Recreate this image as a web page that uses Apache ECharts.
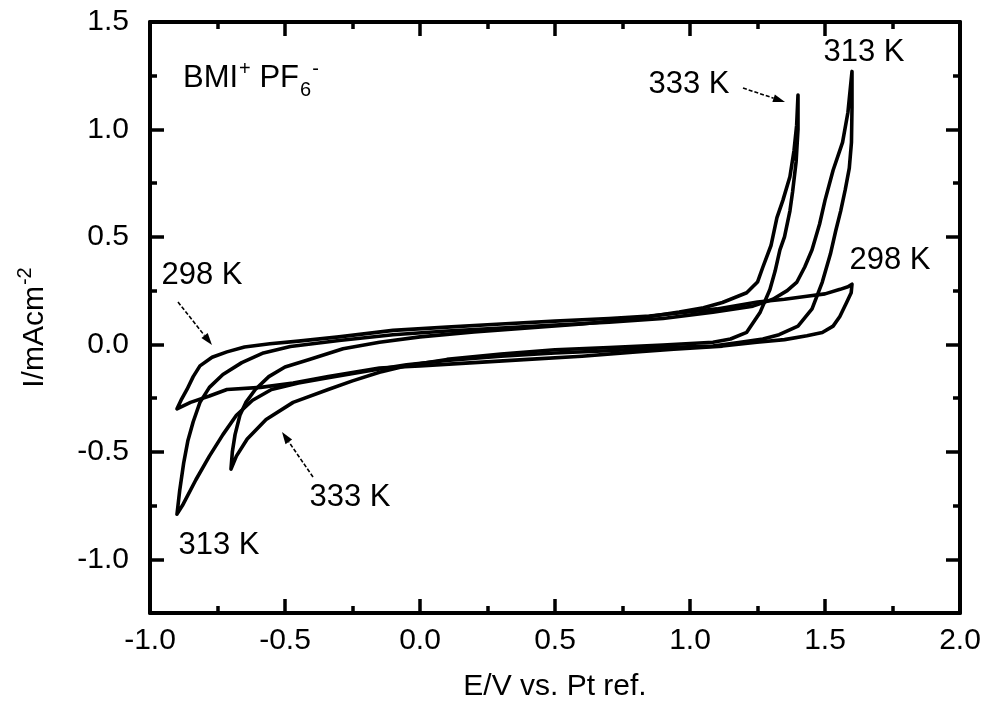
<!DOCTYPE html>
<html><head><meta charset="utf-8">
<script src="https://cdn.jsdelivr.net/npm/echarts@6/dist/echarts.min.js"></script>
<style>html,body{margin:0;padding:0;background:#fff}#c{width:985px;height:707px}</style>
</head><body><div id="c"></div>
<script>
// ---- data (E / V vs Pt ref., I / mA cm^-2), each loop traced in sweep order ----
const e298 = [-0.9,-0.885,-0.863,-0.84,-0.815,-0.77,-0.715,-0.65,-0.556,-0.45,-0.3,-0.1,0.1,0.3,0.5,0.7,0.85,1.03,1.1,1.25,1.35,1.433,1.5,1.556,1.585,1.6,
  1.597,1.58,1.555,1.53,1.49,1.433,1.35,1.248,1.12,0.94,0.8,0.6,0.4,0.2,0.0,-0.15,-0.34,-0.47,-0.59,-0.715,-0.78,-0.85,-0.9];
const i298 = [-0.30,-0.26,-0.21,-0.15,-0.10,-0.06,-0.035,-0.012,0.003,0.015,0.035,0.065,0.08,0.095,0.108,0.12,0.132,0.155,0.165,0.197,0.21,0.224,0.235,0.256,0.268,0.28,
  0.24,0.195,0.13,0.085,0.055,0.04,0.022,0.01,-0.008,-0.022,-0.035,-0.055,-0.07,-0.085,-0.10,-0.11,-0.15,-0.18,-0.20,-0.21,-0.24,-0.27,-0.30];

const e313 = [-0.9,-0.89,-0.875,-0.86,-0.84,-0.815,-0.78,-0.73,-0.66,-0.58,-0.48,-0.3,-0.1,0.1,0.3,0.5,0.7,0.9,1.085,1.233,1.307,1.36,1.396,1.425,1.452,1.48,1.5,1.53,1.565,1.585,1.6,
  1.6,1.598,1.59,1.575,1.558,1.54,1.52,1.49,1.452,1.4,1.33,1.27,1.18,1.085,0.9,0.7,0.5,0.3,0.1,-0.05,-0.15,-0.34,-0.45,-0.55,-0.62,-0.68,-0.73,-0.78,-0.83,-0.88,-0.9];
const i313 = [-0.79,-0.68,-0.55,-0.45,-0.36,-0.27,-0.20,-0.14,-0.085,-0.04,-0.01,0.018,0.045,0.062,0.076,0.09,0.103,0.12,0.15,0.178,0.21,0.25,0.29,0.36,0.44,0.56,0.67,0.81,0.94,1.08,1.27,
  1.1,0.94,0.82,0.72,0.62,0.53,0.42,0.29,0.165,0.085,0.045,0.025,0.008,-0.008,-0.015,-0.03,-0.04,-0.055,-0.075,-0.095,-0.115,-0.155,-0.18,-0.21,-0.26,-0.33,-0.42,-0.52,-0.63,-0.75,-0.79];

const e333 = [-0.7,-0.695,-0.685,-0.667,-0.645,-0.61,-0.56,-0.5,-0.41,-0.285,-0.15,0.0,0.2,0.4,0.6,0.8,0.96,1.05,1.12,1.21,1.25,1.27,1.3,1.322,1.344,1.37,1.385,1.395,1.4,
  1.4,1.393,1.38,1.37,1.35,1.333,1.315,1.296,1.26,1.21,1.15,1.085,0.9,0.7,0.5,0.3,0.1,-0.05,-0.15,-0.25,-0.34,-0.47,-0.57,-0.64,-0.68,-0.7];
const i333 = [-0.58,-0.5,-0.42,-0.33,-0.27,-0.21,-0.15,-0.105,-0.07,-0.02,0.01,0.035,0.058,0.076,0.095,0.12,0.15,0.17,0.195,0.24,0.29,0.36,0.46,0.59,0.67,0.78,0.9,1.02,1.16,
  1.0,0.85,0.71,0.62,0.5,0.44,0.34,0.255,0.15,0.056,0.025,0.01,-0.003,-0.015,-0.025,-0.045,-0.07,-0.1,-0.13,-0.17,-0.21,-0.27,-0.35,-0.44,-0.52,-0.58];

const seriesNames = ['298 K', '313 K', '333 K'];
const xMajorTicks = [-1.0, -0.5, 0.0, 0.5, 1.0, 1.5, 2.0];
const yMajorTicks = [-1.0, -0.5, 0.0, 0.5, 1.0, 1.5];
const xName = 'E/V vs. Pt ref.';
const yNameMain = 'I/mAcm';
const yNameSup = '-2';

// ---- chart ----
const FONT = 'Liberation Sans';
const mctx = document.createElement('canvas').getContext('2d');
function tw(t, size) { mctx.font = size + 'px "' + FONT + '"'; return mctx.measureText(t).width; }
function zip(a, b) { return a.map((v, k) => [v, b[k]]); }

const chart = echarts.init(document.getElementById('c'), null, { renderer: 'canvas' });
const black = '#000';
const tickFont = 30;
const nameFont = 30;
const frameLine = { show: true, onZero: false, lineStyle: { color: black, width: 4 } };
const noLine = { show: false, onZero: false };
const fmt = v => v.toFixed(1);

function xAx(pos, withLabel) {
  return {
    type: 'value', position: pos, min: -1, max: 2, interval: 0.5,
    axisLine: frameLine,
    axisTick: { show: true, inside: true, length: 14, lineStyle: { color: black, width: 3.5 } },
    minorTick: { show: true, splitNumber: 2, length: 7, lineStyle: { color: black, width: 3.5 } },
    splitLine: { show: false }, minorSplitLine: { show: false },
    axisLabel: withLabel ? { show: true, margin: 13, fontSize: tickFont, color: black, fontFamily: FONT, formatter: fmt, customValues: xMajorTicks } : { show: false },
    name: withLabel ? xName : '', nameLocation: 'middle', nameGap: 59,
    nameTextStyle: { fontSize: nameFont, color: black, fontFamily: FONT }
  };
}
function yMajor(pos, withLabel) {
  return {
    type: 'value', position: pos, min: -1.25, max: 1.5, interval: 0.25,
    axisLine: frameLine,
    axisTick: { show: true, inside: true, length: 14, customValues: yMajorTicks, lineStyle: { color: black, width: 3.5 } },
    splitLine: { show: false },
    axisLabel: withLabel ? { show: true, margin: 21, fontSize: tickFont, color: black, fontFamily: FONT, formatter: fmt, customValues: yMajorTicks } : { show: false }
  };
}
function yMinor(pos) {
  return {
    type: 'value', position: pos, min: -1.25, max: 1.5, interval: 0.25,
    axisLine: noLine,
    axisTick: { show: true, inside: true, length: 7, lineStyle: { color: black, width: 3.5 } },
    splitLine: { show: false }, axisLabel: { show: false }
  };
}

const loops = [zip(e298, i298), zip(e313, i313), zip(e333, i333)];

const option = {
  animation: false,
  backgroundColor: '#fff',
  grid: { left: 150, right: 25, top: 22, bottom: 92 },
  xAxis: [xAx('bottom', true), xAx('top', false)],
  yAxis: [yMajor('left', true), yMinor('left'), yMajor('right', false), yMinor('right')],
  series: loops.map((d, k) => ({
    name: seriesNames[k], type: 'line', data: d, xAxisIndex: 0, yAxisIndex: 0,
    showSymbol: false, symbol: 'none', smooth: false, z: 3,
    lineStyle: { color: black, width: 3.6, join: 'round', cap: 'round' }
  }))
};
chart.setOption(option);

// ---- annotations ----
const annFont = 31;
function txt(t, x, y, size, align) {
  return { type: 'text', x: x, y: y, z: 10,
    style: { text: t, fontSize: size, fontFamily: FONT, fill: black, align: align || 'center', verticalAlign: 'middle' } };
}
function arrow(x1, y1, x2, y2) {
  const a = Math.atan2(y2 - y1, x2 - x1), L = 12, W = 4;
  const bx = x2 - L * Math.cos(a), by = y2 - L * Math.sin(a);
  const px = -Math.sin(a) * W, py = Math.cos(a) * W;
  return [
    { type: 'line', z: 10, shape: { x1: x1, y1: y1, x2: bx, y2: by }, style: { stroke: black, lineWidth: 1.6, lineDash: [4, 2] } },
    { type: 'polygon', z: 10, shape: { points: [[x2, y2], [bx + px, by + py], [bx - px, by - py]] }, style: { fill: black } }
  ];
}
const bmiW = tw('BMI', annFont);
const plusW = tw('+', 20);
const pfW = tw(' PF', annFont);
const sixW = tw('6', 20);
const bx0 = 183, by0 = 78;
const yW1 = tw(yNameMain, nameFont), yW2 = tw(yNameSup, 20), yTot = yW1 + yW2;

const graphics = [
  txt('BMI', bx0, by0, annFont, 'left'),
  txt('+', bx0 + bmiW + 1, by0 - 9, 20, 'left'),
  txt(' PF', bx0 + bmiW + plusW + 1, by0, annFont, 'left'),
  txt('6', bx0 + bmiW + plusW + pfW + 2, by0 + 12, 20, 'left'),
  txt('-', bx0 + bmiW + plusW + pfW + sixW + 3, by0 - 9, 20, 'left'),
  txt('313 K', 864, 52, annFont),
  txt('333 K', 689, 84, annFont),
  txt('298 K', 890, 260, annFont),
  txt('298 K', 202, 275, annFont),
  txt('333 K', 350, 497, annFont),
  txt('313 K', 219, 545, annFont),
  ...arrow(743, 88, 785, 102),
  ...arrow(178, 302, 212, 345),
  ...arrow(313, 477, 282, 432),
  { type: 'group', x: 35, y: 328, rotation: Math.PI / 2, z: 10, children: [
    { type: 'text', x: -yTot / 2, y: 0, style: { text: yNameMain, fontSize: nameFont, fontFamily: FONT, fill: black, align: 'left', verticalAlign: 'middle' } },
    { type: 'text', x: -yTot / 2 + yW1 + 1, y: -10, style: { text: yNameSup, fontSize: 20, fontFamily: FONT, fill: black, align: 'left', verticalAlign: 'middle' } }
  ] }
];
chart.setOption({ graphic: graphics });
</script>
</body></html>
